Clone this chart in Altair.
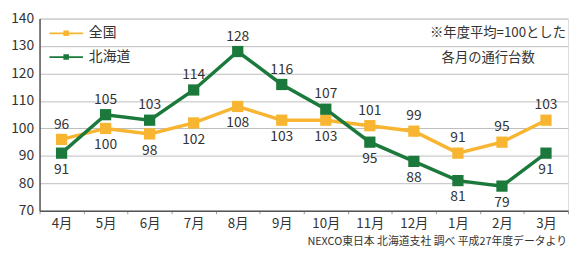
import altair as alt
import pandas as pd

months = ["4月", "5月", "6月", "7月", "8月", "9月", "10月", "11月", "12月", "1月", "2月", "3月"]
series_names = ["全国", "北海道"]
zenkoku = [96, 100, 98, 102, 108, 103, 103, 101, 99, 91, 95, 103]
hokkaido = [91, 105, 103, 114, 128, 116, 107, 95, 88, 81, 79, 91]
# label placement: 1 = above the point, -1 = below
zenkoku_side = [1, -1, -1, -1, -1, -1, -1, 1, 1, 1, 1, 1]
hokkaido_side = [-1, 1, 1, 1, 1, 1, 1, -1, -1, -1, -1, -1]
y_ticks = [70, 80, 90, 100, 110, 120, 130, 140]
note_lines = ["※年度平均=100とした", "各月の通行台数"]
source_text = "NEXCO東日本 北海道支社 調べ 平成27年度データより"
colors = ["#F7B531", "#1B7A3B"]

rows = []
for name, vals, sides in [(series_names[0], zenkoku, zenkoku_side), (series_names[1], hokkaido, hokkaido_side)]:
    for m, v, s in zip(months, vals, sides):
        rows.append({"month": m, "series": name, "value": v, "side": s})
df = pd.DataFrame(rows)

FONT = "Noto Sans CJK JP"

x_enc = alt.X("month:N", sort=months, bandPosition=0.5,
              scale=alt.Scale(type="band", paddingInner=0, paddingOuter=0),
              axis=alt.Axis(title=None, labelFontSize=13.5, labelColor="#333", labelFont=FONT,
                            domainColor="#555", domainWidth=1.5, tickColor="#999", tickSize=3,
                            tickBand="extent", labelPadding=3, grid=False, labelAngle=0))
y_enc = alt.Y("value:Q", scale=alt.Scale(domain=[70, 140], nice=False),
              axis=alt.Axis(title=None, values=y_ticks, labelFontSize=14, labelColor="#333",
                            labelFont=FONT, domainColor="#555", domainWidth=1.5, ticks=False,
                            gridColor="#BDBDBD", gridWidth=1, labelPadding=6))

legend_path = "M-1.7,-0.09 L1.7,-0.09 L1.7,0.09 L-1.7,0.09 Z M-0.28,-0.28 L0.28,-0.28 L0.28,0.28 L-0.28,0.28 Z"
color_scale = alt.Scale(domain=series_names, range=colors)
color_enc = alt.Color("series:N", sort=series_names, scale=color_scale,
                      legend=alt.Legend(title=None, orient="none", legendX=17, legendY=5,
                                        symbolType=legend_path, symbolSize=400,
                                        symbolStrokeWidth=0, labelFontSize=14, labelFont=FONT,
                                        labelColor="#333", rowPadding=7, labelOffset=13))

base = alt.Chart(df)
lines = base.mark_line(strokeWidth=3.5).encode(x=x_enc, y=y_enc, color=color_enc)
points = base.mark_square(size=130, opacity=1).encode(
    x=x_enc, y=y_enc, color=alt.Color("series:N", scale=color_scale, legend=None))
labels_above = base.transform_filter("datum.side > 0").mark_text(
    dy=-15, fontSize=14, color="#333", font=FONT).encode(x=x_enc, y=y_enc, text="value:Q")
labels_below = base.transform_filter("datum.side < 0").mark_text(
    dy=17, fontSize=14, color="#333", font=FONT).encode(x=x_enc, y=y_enc, text="value:Q")

note1 = alt.Chart(pd.DataFrame({"t": [note_lines[0]]})).mark_text(
    fontSize=13.5, color="#333", font=FONT, align="center").encode(
    x=alt.value(465), y=alt.value(15), text="t:N")
note2 = alt.Chart(pd.DataFrame({"t": [note_lines[1]]})).mark_text(
    fontSize=13.5, color="#333", font=FONT, align="center").encode(
    x=alt.value(455), y=alt.value(40), text="t:N")

src = alt.Chart(pd.DataFrame({"t": [source_text]})).mark_text(
    fontSize=11, color="#333", font=FONT, align="right", baseline="bottom").encode(
    x=alt.value(535), y=alt.value(232), text="t:N")

chart = alt.layer(lines, points, labels_above, labels_below, note1, note2, src).properties(
    width=536, height=195, padding={"left": 32, "top": 9, "right": 1, "bottom": 37},
    autosize=alt.AutoSizeParams(type="none")
).configure_view(stroke=None).configure(font=FONT)

chart.save("out.html", embed_options={"renderer": "svg", "actions": False})
